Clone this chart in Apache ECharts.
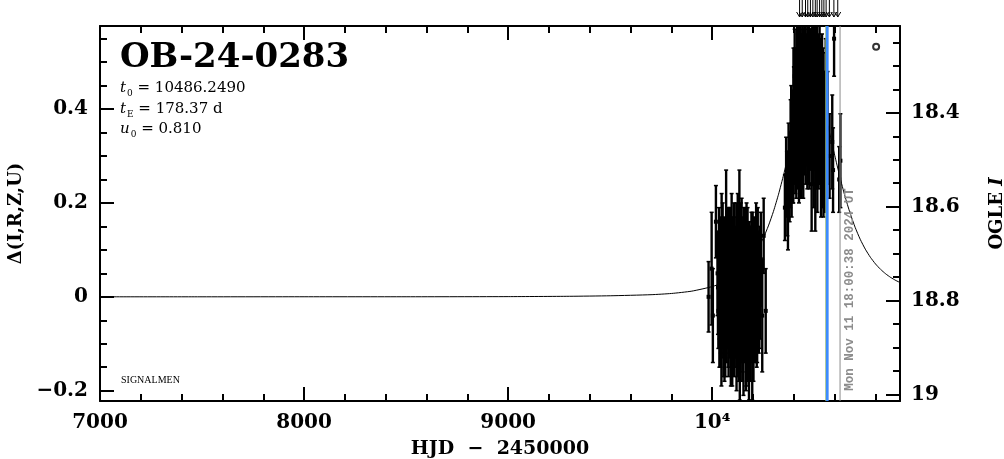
<!DOCTYPE html>
<html><head><meta charset="utf-8">
<script src="https://cdn.jsdelivr.net/npm/echarts@6/dist/echarts.min.js"></script>
<style>html,body{margin:0;padding:0;background:#fff;overflow:hidden}#c{width:1004px;height:459px}</style>
</head><body><div id="c"></div>
<script>
// ---- axis ranges & tick labels ----
const X_MIN = 7000, X_MAX = 10920;
const Y_MIN = -0.222, Y_MAX = 0.577;
const MAG_TOP = 18.215, MAG_BOTTOM = 19.014;
const xTicks = [7000, 8000, 9000, 10000];
const xTickLabels = ['7000', '8000', '9000', '10⁴'];
const yTicks = [-0.2, 0, 0.2, 0.4];
const yTickLabels = ['−0.2', '0', '0.2', '0.4'];
const magTicks = [18.4, 18.6, 18.8, 19.0];
const magTickLabels = ['18.4', '18.6', '18.8', '19'];

// ---- model light curve ----
const modelHjd = [7000, 7500, 8000, 8500, 9000, 9300, 9500, 9700, 9800, 9900, 10000, 10050, 10100, 10125, 10150, 10175, 10200,
  10225, 10250, 10275, 10300, 10325, 10350, 10375, 10400, 10420, 10450, 10470, 10486, 10500, 10520, 10550, 10575,
  10600, 10625, 10650, 10675, 10700, 10725, 10750, 10775, 10800, 10825, 10850, 10875, 10900, 10920];
const modelDelta = [0.0000, 0.0000, 0.0001, 0.0001, 0.0004, 0.0011, 0.0022, 0.0045, 0.0071, 0.0121, 0.0218, 0.0299, 0.0418, 0.0498, 0.0595, 0.0713, 0.0858,
  0.1035, 0.1250, 0.1510, 0.1821, 0.2187, 0.2606, 0.3065, 0.3540, 0.3899, 0.4332, 0.4500, 0.4544, 0.4512, 0.4359, 0.3941, 0.3492,
  0.3017, 0.2561, 0.2147, 0.1788, 0.1482, 0.1226, 0.1015, 0.0842, 0.0700, 0.0584, 0.0489, 0.0411, 0.0347, 0.0305];

// ---- observations, first season (HJD-2450000, delta, error) ----
const season1Hjd = [9982, 9997, 10003, 10018,
  10026, 10028, 10030, 10033, 10035, 10036, 10038, 10040, 10042, 10043, 10045, 10046, 10048, 10049, 10051, 10052,
  10054, 10055, 10057, 10058, 10060, 10061, 10063, 10064, 10066, 10068, 10070, 10071, 10073, 10074, 10076, 10077,
  10079, 10080, 10082, 10083, 10085, 10086, 10088, 10089, 10091, 10092, 10094, 10095, 10097, 10098, 10100, 10101,
  10103, 10104, 10106, 10107, 10109, 10110, 10112, 10113, 10115, 10116, 10118, 10119, 10121, 10122, 10124, 10125,
  10127, 10128, 10130, 10131, 10133, 10135, 10137, 10138, 10140, 10141, 10143, 10144, 10146, 10147, 10149, 10150,
  10152, 10153, 10155, 10156, 10158, 10159, 10161, 10162, 10164, 10165, 10167, 10168, 10170, 10171, 10173, 10174,
  10176, 10177, 10179, 10180, 10182, 10184, 10186, 10188, 10190, 10192, 10194, 10196, 10198, 10200, 10202, 10205,
  10207, 10210, 10212, 10215, 10218, 10220, 10223, 10226, 10228, 10231, 10234, 10238, 10245, 10252, 10262];
const season1Delta = [0.00, 0.06, -0.04, 0.16,
  0.05, 0.02, -0.03, 0.10, -0.04, 0.01, 0.08, -0.06, 0.00, 0.07, -0.09, 0.12, 0.05, -0.02, 0.09, 0.04,
  -0.01, -0.08, 0.03, 0.09, -0.07, 0.02, 0.06, -0.05, 0.00, 0.15, -0.03, 0.06, 0.08, -0.01, 0.02, 0.11,
  -0.05, -0.07, 0.10, 0.03, -0.02, 0.08, 0.05, -0.04, -0.08, 0.00, 0.03, 0.13, 0.07, -0.09, -0.04, 0.05,
  0.01, -0.02, -0.07, 0.10, 0.06, -0.06, -0.01, 0.02, 0.04, 0.07, 0.09, -0.10, -0.05, 0.04, 0.01, 0.12,
  0.07, -0.03, -0.08, 0.01, 0.16, -0.11, 0.02, 0.06, 0.10, -0.05, -0.03, 0.09, 0.04, -0.08, -0.06, 0.03,
  0.06, -0.12, 0.00, 0.08, -0.04, -0.01, 0.08, 0.05, 0.02, -0.09, -0.07, 0.11, 0.04, 0.00, 0.09, -0.06,
  -0.03, 0.07, 0.01, -0.13, 0.06, 0.04, -0.07, -0.04, 0.03, 0.09, -0.02, -0.10, 0.07, 0.02, -0.06, 0.06,
  0.01, -0.05, 0.04, 0.10, -0.05, -0.02, 0.08, 0.05, -0.02, 0.00, 0.03, 0.08, -0.04, 0.13, -0.03];
const season1Err = [0.075, 0.12, 0.10, 0.077,
  0.09, 0.10, 0.08, 0.09, 0.11, 0.10, 0.09, 0.09, 0.12, 0.08, 0.10, 0.10, 0.10, 0.09, 0.11, 0.11,
  0.12, 0.09, 0.10, 0.08, 0.11, 0.10, 0.10, 0.12, 0.12, 0.12, 0.11, 0.09, 0.10, 0.10, 0.12, 0.08,
  0.10, 0.10, 0.09, 0.09, 0.11, 0.11, 0.10, 0.08, 0.11, 0.12, 0.12, 0.09, 0.10, 0.10, 0.11, 0.09,
  0.12, 0.11, 0.10, 0.10, 0.11, 0.09, 0.12, 0.12, 0.10, 0.08, 0.11, 0.10, 0.12, 0.09, 0.10, 0.10,
  0.12, 0.11, 0.10, 0.09, 0.11, 0.11, 0.12, 0.10, 0.10, 0.09, 0.11, 0.12, 0.12, 0.10, 0.10, 0.09,
  0.11, 0.09, 0.12, 0.11, 0.10, 0.10, 0.11, 0.12, 0.10, 0.11, 0.12, 0.09, 0.11, 0.10, 0.10, 0.12,
  0.11, 0.09, 0.12, 0.09, 0.10, 0.11, 0.11, 0.10, 0.12, 0.09, 0.10, 0.12, 0.11, 0.10, 0.12, 0.11,
  0.10, 0.09, 0.11, 0.10, 0.10, 0.12, 0.11, 0.09, 0.10, 0.11, 0.12, 0.10, 0.12, 0.08, 0.09];

// ---- observations, second season ----
const season2Hjd = [10356, 10362, 10366, 10368, 10371, 10374, 10379, 10382, 10384, 10387, 10389, 10393, 10395, 10397, 10398,
  10400, 10401, 10403, 10404, 10406, 10407, 10409, 10410, 10412, 10413, 10415, 10416, 10418, 10419, 10421, 10422,
  10424, 10425, 10427, 10428, 10430, 10431, 10433, 10434, 10436, 10437, 10439, 10440, 10442, 10443, 10445, 10446,
  10448, 10449, 10451, 10452, 10454, 10455, 10457, 10458, 10460, 10461, 10463, 10464, 10466, 10467, 10469, 10470,
  10472, 10473, 10475, 10476, 10478, 10479, 10481, 10482, 10484, 10485, 10487, 10488, 10490, 10491, 10493, 10494,
  10496, 10497, 10499, 10500, 10502, 10503, 10505, 10506, 10508, 10509, 10511, 10512, 10514, 10515, 10517, 10518,
  10520, 10521, 10523, 10524, 10526, 10527, 10529, 10530, 10532, 10533, 10535, 10536, 10538, 10539, 10541, 10542,
  10544, 10545, 10547, 10548, 10550, 10551, 10553, 10554, 10556,
  10565, 10575, 10588, 10592, 10597, 10622, 10628];
const season2Delta = [0.19, 0.26, 0.24, 0.22, 0.18, 0.30, 0.21, 0.27, 0.33, 0.35, 0.27, 0.36, 0.29, 0.31, 0.43,
  0.40, 0.37, 0.34, 0.47, 0.45, 0.33, 0.38, 0.42, 0.30, 0.39, 0.48, 0.34, 0.41, 0.46, 0.36, 0.41,
  0.52, 0.31, 0.44, 0.48, 0.39, 0.36, 0.50, 0.44, 0.33, 0.40, 0.46, 0.35, 0.55, 0.47, 0.42, 0.32,
  0.37, 0.44, 0.49, 0.38, 0.44, 0.46, 0.53, 0.34, 0.40, 0.43, 0.47, 0.39, 0.35, 0.49, 0.51, 0.36,
  0.43, 0.42, 0.56, 0.33, 0.39, 0.45, 0.48, 0.38, 0.45, 0.47, 0.24, 0.40, 0.50, 0.35, 0.42, 0.44,
  0.54, 0.31, 0.37, 0.41, 0.46, 0.37, 0.24, 0.45, 0.49, 0.34, 0.41, 0.42, 0.52, 0.30, 0.36, 0.39,
  0.45, 0.33, 0.40, 0.44, 0.50, 0.36, 0.33, 0.40, 0.43, 0.29, 0.38, 0.37, 0.47, 0.33, 0.30, 0.41,
  0.42, 0.28, 0.35, 0.36, 0.39, 0.32, 0.28, 0.38, 0.44,
  0.36, 0.30, 0.33, 0.27, 0.55, 0.25, 0.29];
const season2Err = [0.07, 0.08, 0.07, 0.09, 0.08, 0.07, 0.05, 0.08, 0.09, 0.10, 0.10, 0.08, 0.09, 0.11, 0.10,
  0.09, 0.12, 0.10, 0.10, 0.08, 0.11, 0.11, 0.10, 0.09, 0.12, 0.10, 0.11, 0.12, 0.10, 0.09, 0.12,
  0.10, 0.11, 0.08, 0.10, 0.11, 0.12, 0.09, 0.10, 0.12, 0.11, 0.10, 0.12, 0.09, 0.10, 0.11, 0.11,
  0.09, 0.10, 0.12, 0.12, 0.08, 0.11, 0.10, 0.10, 0.11, 0.12, 0.09, 0.11, 0.12, 0.10, 0.10, 0.12,
  0.08, 0.11, 0.11, 0.10, 0.10, 0.12, 0.09, 0.11, 0.12, 0.10, 0.10, 0.12, 0.09, 0.11, 0.11, 0.10,
  0.10, 0.12, 0.08, 0.11, 0.12, 0.10, 0.10, 0.12, 0.09, 0.11, 0.11, 0.10, 0.10, 0.12, 0.12, 0.11,
  0.09, 0.10, 0.10, 0.12, 0.11, 0.11, 0.09, 0.10, 0.12, 0.12, 0.10, 0.11, 0.09, 0.10, 0.11, 0.12,
  0.10, 0.11, 0.12, 0.10, 0.09, 0.12, 0.10, 0.10, 0.11,
  0.12, 0.09, 0.10, 0.09, 0.08, 0.07, 0.10];

// points above the plotted range (drawn as arrows)
const offScaleHjd = [10428, 10441, 10457, 10468, 10481, 10493, 10505, 10514, 10526, 10537, 10547, 10558, 10574, 10596, 10615];

// OGLE symbol (open circle) at top right
const ogleMarkHjd = [10803];
const ogleMarkDelta = [0.533];

// vertical marker lines (HJD-2450000)
const markerHjd = [10557, 10563, 10626.25];
const markerDateLabel = 'Mon Nov 11 18:00:38 2024 UT';

// ---- annotations ----
const eventName = 'OB-24-0283';
const paramT0 = '10486.2490';
const paramTE = '178.37';
const paramU0 = '0.810';

const chart = echarts.init(document.getElementById('c'), null, {renderer: 'canvas'});

function pick(ticks, labels, v) {
  for (let i = 0; i < ticks.length; i++) if (Math.abs(ticks[i] - v) < 1e-6) return labels[i];
  return '';
}
const tickFont = {fontFamily: 'DejaVu Serif', fontWeight: 'bold', fontSize: 20, color: '#000'};
const frame = {show: true, onZero: false, lineStyle: {color: '#000', width: 2}};
const noLine = {show: false, onZero: false};

const markerStyles = [
  {stroke: '#e6e600', lineWidth: 1},
  {stroke: '#3d8bfd', lineWidth: 3},
  {stroke: '#8c8c8c', lineWidth: 1}
];

function errorBarItem(params, api) {
  const x = api.value(0), y = api.value(1), e = api.value(2);
  const t = api.coord([x, y + e]), b = api.coord([x, y - e]), c = api.coord([x, y]);
  return {type: 'group', children: [
    {type: 'line', shape: {x1: t[0], y1: t[1], x2: b[0], y2: b[1]}, style: {stroke: '#000', lineWidth: 2.4}},
    {type: 'line', shape: {x1: t[0] - 2, y1: t[1], x2: t[0] + 2, y2: t[1]}, style: {stroke: '#000', lineWidth: 1.5}},
    {type: 'line', shape: {x1: b[0] - 2, y1: b[1], x2: b[0] + 2, y2: b[1]}, style: {stroke: '#000', lineWidth: 1.5}},
    {type: 'rect', shape: {x: c[0] - 2, y: c[1] - 2, width: 4, height: 4}, style: {fill: '#000'}}
  ]};
}

const paramRich = {
  it: {fontFamily: 'DejaVu Serif', fontStyle: 'italic', fontSize: 15, fill: '#000', lineHeight: 19},
  sub: {fontFamily: 'DejaVu Serif', fontSize: 9, fill: '#000', lineHeight: 9, verticalAlign: 'bottom', padding: [0, 0, 0, 1]},
  m: {fontFamily: 'DejaVu Serif', fontSize: 15, fill: '#000', lineHeight: 19}
};

const option = {
  animation: false,
  backgroundColor: '#fff',
  grid: {left: 100, right: 104, top: 26, bottom: 58, containLabel: false, outerBoundsMode: 'none'},
  xAxis: [
    {type: 'value', position: 'bottom', min: X_MIN, max: X_MAX, interval: 1000,
      axisLine: frame, splitLine: {show: false},
      axisTick: {inside: true, length: 14, lineStyle: {width: 2, color: '#000'}},
      axisLabel: Object.assign({margin: 12, formatter: v => pick(xTicks, xTickLabels, v)}, tickFont),
      name: 'HJD  −  2450000', nameLocation: 'middle', nameGap: 39,
      nameTextStyle: {fontFamily: 'DejaVu Serif', fontWeight: 'bold', fontSize: 19, color: '#000'}},
    {type: 'value', position: 'bottom', min: X_MIN, max: X_MAX, interval: 200,
      axisLine: noLine, splitLine: {show: false},
      axisTick: {inside: true, length: 7, lineStyle: {width: 2, color: '#000'}}, axisLabel: {show: false}},
    {type: 'value', position: 'top', min: X_MIN, max: X_MAX, interval: 1000,
      axisLine: frame, splitLine: {show: false},
      axisTick: {inside: true, length: 14, lineStyle: {width: 2, color: '#000'}}, axisLabel: {show: false}},
    {type: 'value', position: 'top', min: X_MIN, max: X_MAX, interval: 200,
      axisLine: noLine, splitLine: {show: false},
      axisTick: {inside: true, length: 7, lineStyle: {width: 2, color: '#000'}}, axisLabel: {show: false}}
  ],
  yAxis: [
    {type: 'value', position: 'left', min: Y_MIN, max: Y_MAX, minInterval: 0.2, maxInterval: 0.2, splitNumber: 4,
      axisLine: frame, splitLine: {show: false},
      axisTick: {inside: true, length: 14, lineStyle: {width: 2, color: '#000'}},
      axisLabel: Object.assign({margin: 12, formatter: v => pick(yTicks, yTickLabels, v)}, tickFont),
      name: 'Δ(I,R,Z,U)', nameLocation: 'middle', nameGap: 74, nameRotate: 90,
      nameTextStyle: {fontFamily: 'DejaVu Serif', fontWeight: 'bold', fontSize: 18, color: '#000'}},
    {type: 'value', position: 'left', min: Y_MIN, max: Y_MAX, minInterval: 0.05, maxInterval: 0.05, splitNumber: 16,
      axisLine: noLine, splitLine: {show: false},
      axisTick: {inside: true, length: 7, lineStyle: {width: 2, color: '#000'}}, axisLabel: {show: false}},
    {type: 'value', position: 'right', min: MAG_TOP, max: MAG_BOTTOM, inverse: true,
      minInterval: 0.2, maxInterval: 0.2, splitNumber: 4,
      axisLine: frame, splitLine: {show: false},
      axisTick: {inside: true, length: 14, lineStyle: {width: 2, color: '#000'}},
      axisLabel: Object.assign({margin: 11, formatter: v => pick(magTicks, magTickLabels, v)}, tickFont),
      name: '{n|OGLE }{i|I}', nameLocation: 'middle', nameGap: 88, nameRotate: 90,
      nameTextStyle: {rich: {
        n: {fontFamily: 'DejaVu Serif', fontWeight: 'bold', fontSize: 18, color: '#000'},
        i: {fontFamily: 'DejaVu Serif', fontWeight: 'bold', fontStyle: 'italic', fontSize: 18, color: '#000'}}}},
    {type: 'value', position: 'right', min: MAG_TOP, max: MAG_BOTTOM, inverse: true,
      minInterval: 0.05, maxInterval: 0.05, splitNumber: 16,
      axisLine: noLine, splitLine: {show: false},
      axisTick: {inside: true, length: 7, lineStyle: {width: 2, color: '#000'}}, axisLabel: {show: false}}
  ],
  series: [
    {type: 'line', name: 'model', xAxisIndex: 0, yAxisIndex: 0, z: 2,
      data: modelHjd.map((h, i) => [h, modelDelta[i]]),
      showSymbol: false, symbol: 'none', smooth: 0.2, clip: true,
      lineStyle: {color: '#000', width: 1}},
    {type: 'custom', name: 'season1', xAxisIndex: 0, yAxisIndex: 0, z: 3, clip: true,
      data: season1Hjd.map((h, i) => [h, season1Delta[i], season1Err[i]]),
      encode: {x: 0, y: 1}, renderItem: errorBarItem},
    {type: 'custom', name: 'season2', xAxisIndex: 0, yAxisIndex: 0, z: 3, clip: true,
      data: season2Hjd.map((h, i) => [h, season2Delta[i], season2Err[i]]),
      encode: {x: 0, y: 1}, renderItem: errorBarItem},
    {type: 'custom', name: 'markers', xAxisIndex: 0, yAxisIndex: 0, z: 4, clip: false,
      data: markerHjd.map(h => [h, Y_MIN]),
      encode: {x: 0, y: 1},
      renderItem: function (params, api) {
        const h = api.value(0);
        const b = api.coord([h, Y_MIN]), t = api.coord([h, Y_MAX]);
        const children = [{type: 'line', z2: params.dataIndex, shape: {x1: b[0], y1: b[1], x2: t[0], y2: t[1]}, style: markerStyles[params.dataIndex]}];
        if (params.dataIndex === 2) {
          const p = api.coord([h, -0.2]);
          children.push({type: 'text', x: p[0] + 3, y: p[1], rotation: Math.PI / 2,
            style: {text: markerDateLabel, fill: '#8c8c8c', font: 'bold 12.5px "Liberation Mono"', align: 'left', verticalAlign: 'top'}});
        }
        return {type: 'group', children: children};
      }},
    {type: 'custom', name: 'offscale', xAxisIndex: 0, yAxisIndex: 0, z: 4, clip: false,
      data: offScaleHjd.map(h => [h, Y_MAX]),
      encode: {x: 0, y: 1},
      renderItem: function (params, api) {
        const p = api.coord([api.value(0), Y_MAX]);
        const x = p[0], tip = p[1] - 9;
        return {type: 'group', children: [
          {type: 'line', shape: {x1: x, y1: p[1] - 40, x2: x, y2: tip}, style: {stroke: '#000', lineWidth: 1}},
          {type: 'polyline', shape: {points: [[x - 3, tip - 5], [x, tip], [x + 3, tip - 5]]}, style: {stroke: '#000', lineWidth: 1, fill: null}}
        ]};
      }},
    {type: 'scatter', name: 'OGLE', xAxisIndex: 0, yAxisIndex: 0, z: 5,
      data: ogleMarkHjd.map((h, i) => [h, ogleMarkDelta[i]]),
      symbol: 'circle', symbolSize: 6,
      itemStyle: {color: '#fff', borderColor: '#000', borderWidth: 2}}
  ],
  graphic: [
    {type: 'text', x: 120, y: 41, style: {text: eventName, font: 'bold 34px "DejaVu Serif"', fill: '#000', verticalAlign: 'top'}},
    {type: 'text', x: 120, y: 79, style: {text: '{it|t}{sub|0}{m| = ' + paramT0 + '}', rich: paramRich}},
    {type: 'text', x: 120, y: 100, style: {text: '{it|t}{sub|E}{m| = ' + paramTE + ' d}', rich: paramRich}},
    {type: 'text', x: 120, y: 120, style: {text: '{it|u}{sub|0}{m| = ' + paramU0 + '}', rich: paramRich}},
    {type: 'text', x: 121, y: 375, style: {text: 'SIGNALMEN', font: '10px "Liberation Serif"', fill: '#000', verticalAlign: 'top'}}
  ]
};
chart.setOption(option);
</script>
</body></html>
